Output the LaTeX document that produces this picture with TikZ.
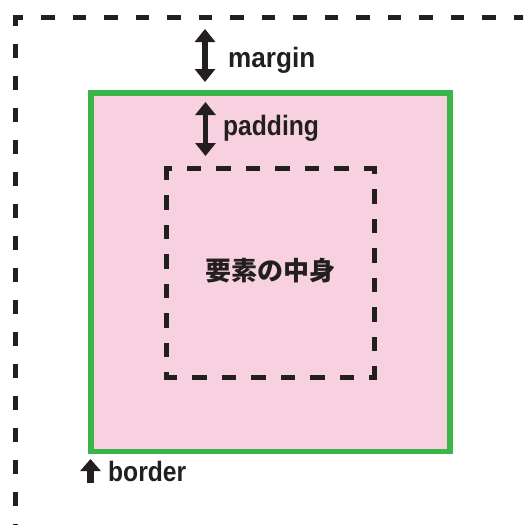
\documentclass[tikz,border=0pt]{standalone}
\usepackage{fontspec}
\setmainfont{Liberation Sans}
\newfontfamily\jp{Noto Sans CJK JP}
\usetikzlibrary{arrows.meta}
\definecolor{boxgreen}{HTML}{3AB54A}
\definecolor{boxpink}{HTML}{F7D1E0}
\definecolor{ink}{HTML}{231F20}
\tikzset{
  lbl/.style={inner sep=0pt, anchor=base west, text=ink,
    font=\fontsize{28}{28}\selectfont\bfseries, xscale=0.88},
  dimarrow/.style={draw=ink, line width=5.5pt,
    {Triangle[width=20pt,length=13pt]}-{Triangle[width=20pt,length=13pt]}},
  uparrow/.style={draw=ink, line width=7pt, -{Triangle[width=20pt,length=12pt]}},
  outerdash/.style={draw=ink, line width=5pt, line cap=rect},
  innerdash/.style={draw=ink, line width=5pt, line cap=rect,
    dash pattern=on 9.5pt off 20pt, dash phase=6.5pt},
}
\begin{document}
\begin{tikzpicture}[x=1pt,y=-1pt]
\useasboundingbox (0,0) rectangle (523,525);
\clip (0,0) rectangle (523,525);
% outer (margin) edge
\coordinate (oc) at (15,17.5);
\coordinate (otr) at (540,17.5);
\coordinate (obl) at (15,540);
\draw[outerdash, dash pattern=on 8.5pt off 23pt, dash phase=3pt] (oc) -- (otr);
\draw[outerdash, dash pattern=on 9pt off 23pt, dash phase=3.5pt] (oc) -- (obl);
% border box
\node[draw=boxgreen, fill=boxpink, line width=5.5pt, inner sep=0pt,
  minimum width=359pt, minimum height=358.5pt] (border) at (270.5,272.25) {};
% content box
\coordinate (ctl) at (166,168.5);
\coordinate (ctr) at (374.5,168.5);
\coordinate (cbr) at (374.5,377.5);
\coordinate (cbl) at (166,377.5);
\draw[innerdash] (ctl) -- (ctr);
\draw[innerdash] (ctr) -- (cbr);
\draw[innerdash] (cbr) -- (cbl);
\draw[innerdash] (cbl) -- (ctl);
\node[text=ink, font=\jp\bfseries\fontsize{26}{26}\selectfont, inner sep=0pt] (content) at (270.5,271) {要素の中身};
% margin arrow
\coordinate (mt) at (205,29);
\coordinate (mb) at (205,82);
\draw[dimarrow] (mt) -- (mb);
\node[lbl, xscale=1.06] (mlabel) at (228,67.5) {margin};
% padding arrow
\coordinate (pt) at (205.5,102);
\coordinate (pb) at (205.5,156);
\draw[dimarrow] (pt) -- (pb);
\node[lbl] (plabel) at (223,135.5) {padding};
% border arrow
\coordinate (bb) at (90.5,483);
\coordinate (bt) at (90.5,459);
\draw[uparrow] (bb) -- (bt);
\node[lbl] (blabel) at (108,481.5) {border};
\end{tikzpicture}
\end{document}
